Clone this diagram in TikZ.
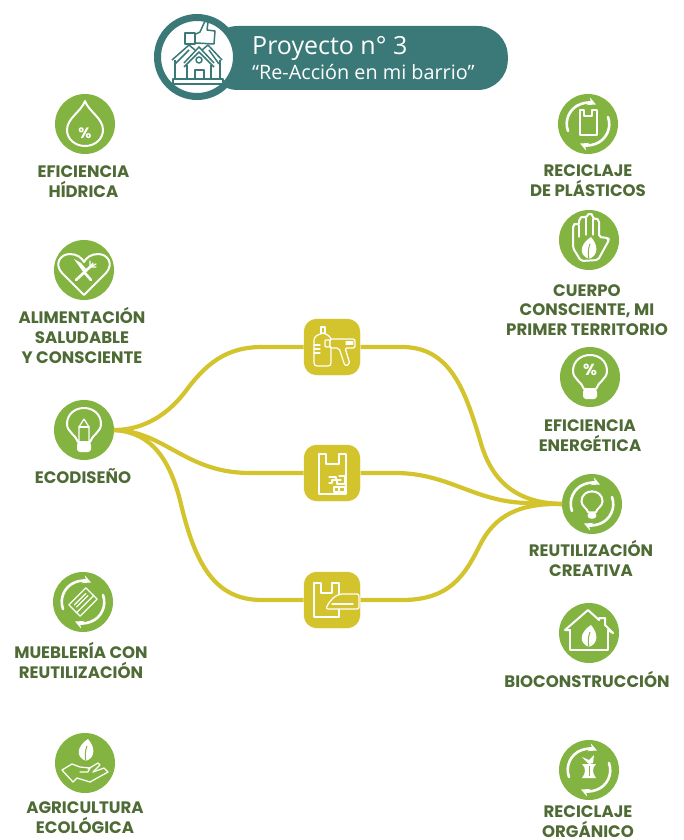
\documentclass[tikz,border=0pt]{standalone}
\usepackage{fontspec}
\usepackage{xcolor}
\usetikzlibrary{positioning}
\setmainfont{Poppins}
\newfontfamily\titlefont{Open Sans}
\definecolor{leafgreen}{RGB}{131, 180, 65}
\definecolor{labelgreen}{RGB}{79, 107, 53}
\definecolor{mustard}{RGB}{211, 196, 45}
\definecolor{teal}{RGB}{58, 121, 119}

\tikzset{
    ico/.style={draw=white, line width=2pt, line join=round, line cap=round},
    icothin/.style={draw=white, line width=1.25pt, line join=round, line cap=round},
    recycle/.pic={
        \draw[ico, line width=2.6pt, -stealth] (-20,7) arc[start angle=160, end angle=293, radius=21];
        \draw[ico, line width=2.6pt, -stealth] (20,-7) arc[start angle=340, end angle=473, radius=21];
    },
    leafy/.pic={
        \fill[white] (0,10) .. controls (-11,6) and (-9,-5) .. (2,-12) .. controls (9,-4) and (10,6) .. (0,10);
        \draw[leafgreen, line width=1pt] (0,11) .. controls (-1,4) and (-1,0) .. (1,-5);
    },
    bulbshape/.pic={
        \draw[ico] (-6,12) .. controls (-8,5) and (-17,2) .. (-17,-6) .. controls (-17,-16) and (-9,-22) .. (0,-22)
            .. controls (9,-22) and (17,-16) .. (17,-6) .. controls (17,2) and (8,5) .. (6,12) -- cycle;
        \fill[white, rounded corners=3pt] (-7,12) rectangle (7,22);
    },
    bagshape/.pic={
        \draw[ico] (-13,-19) -- (-6,-19) -- (-6,-9) -- (7,-9) -- (7,-19) -- (14,-19) -- (14,21) -- (-13,21) -- cycle;
    },
}

\begin{document}
\begin{tikzpicture}[x=1pt, y=-1pt,
        badge/.style={circle, fill=leafgreen, minimum size=60pt, inner sep=0pt, outer sep=0pt},
        stop/.style={rectangle, fill=mustard, draw=white, line width=.5pt, rounded corners=13pt, minimum size=57pt, inner sep=0pt, outer sep=0pt},
        caption/.style={font=\fontsize{16.6}{19.6}\selectfont\bfseries, text=labelgreen, align=center, inner sep=0pt, execute at begin node=\strut},
        route/.style={draw=mustard, line width=4.2pt},
        pct/.style={text=white, font=\fontsize{15}{15}\selectfont\bfseries, inner sep=0pt}
    ]
        \useasboundingbox (0,0) rectangle (684,840);

        \node (banner) [rectangle, fill=teal, minimum width=300pt, minimum height=64pt, rounded corners=30pt, inner sep=0pt, anchor=east] at (508,58) {};
        \node (ring) [circle, fill=white, draw=teal, line width=7pt, minimum size=79pt, inner sep=0pt] at (197,57) {};
        \node (title) [text=white, font=\titlefont\fontsize{25}{26}\selectfont, anchor=base west, inner sep=0pt] at (252,55) {Proyecto n° 3};
        \node (subtitle) [text=white, font=\titlefont\fontsize{19.8}{20}\selectfont, anchor=base west, inner sep=0pt] at (252,80) {“Re-Acción en mi barrio”};

        \begin{scope}[shift={(197,57)}, every path/.style={draw=teal, line width=1.5pt, line join=round}]
            \draw (-12,-24) rectangle (-2,-13);
            \draw (-1,-23) -- (3,-25) -- (8,-36) -- (11,-35) -- (10,-27) -- (18,-26) -- (17,-13) -- (-1,-14);
            \draw (-25,3) -- (-8,-12) -- (-2,-7);
            \draw (25,3) -- (11,-12) -- (5,-7);
            \draw (-22,7) -- (-8,-7);
            \draw (22,7) -- (12,-7);
            \draw (-22,3) -- (-22,22);
            \draw (23,3) -- (23,22);
            \draw (-13,6) -- (2,-10) -- (17,6);
            \draw (-13,10) -- (2,-5) -- (17,10);
            \draw (-10,8) -- (-10,22);
            \draw (14,8) -- (14,22);
            \draw (2,3) circle (3);
            \draw (-2,13) rectangle (7,22);
            \draw (-24,22) rectangle (26,27);
        \end{scope}

        \node (hidrica) [badge] at (85,124) {};
        \node (salud) [badge] at (84,270) {};
        \node (ecodiseno) [badge] at (84,430) {};
        \node (muebles) [badge] at (83,602) {};
        \node (agricultura) [badge] at (85,763) {};
        \node (plasticos) [badge] at (588,124) {};
        \node (cuerpo) [badge] at (589,240) {};
        \node (energia) [badge] at (590,377) {};
        \node (creativa) [badge] at (592,504) {};
        \node (bioconst) [badge] at (589,633) {};
        \node (organico) [badge] at (589,770) {};

        \node (hidricatxt) [caption, below=11.5pt of hidrica, xshift=-1.5pt] {EFICIENCIA\\HÍDRICA};
        \node (saludtxt) [caption, below=7.5pt of salud, xshift=-2pt] {ALIMENTACIÓN\\SALUDABLE\\Y CONSCIENTE};
        \node (ecotxt) [caption, below=8.5pt of ecodiseno, xshift=-1pt] {ECODISEÑO};
        \node (mueblestxt) [caption, below=10.5pt of muebles, xshift=-2pt] {MUEBLERÍA CON\\REUTILIZACIÓN};
        \node (agritxt) [caption, below=9pt of agricultura] {AGRICULTURA\\ECOLÓGICA};
        \node (plastxt) [caption, below=11pt of plasticos] {RECICLAJE\\DE PLÁSTICOS};
        \node (cuerpotxt) [caption, below=14pt of cuerpo, xshift=-2pt] {CUERPO\\CONSCIENTE, MI\\PRIMER TERRITORIO};
        \node (energiatxt) [caption, below=13pt of energia] {EFICIENCIA\\ENERGÉTICA};
        \node (creatxt) [caption, below=6.5pt of creativa, xshift=-1pt] {REUTILIZACIÓN\\CREATIVA};
        \node (biotxt) [caption, below=8.5pt of bioconst, xshift=-2pt] {BIOCONSTRUCCIÓN};
        \node (orgtxt) [caption, below=5.5pt of organico, xshift=-1pt] {RECICLAJE\\ORGÁNICO};

        \node (bottlegun) [stop] at (332,347) {};
        \node (bagbricks) [stop] at (332,473) {};
        \node (bagiron) [stop] at (332,600) {};

        \draw[route] (ecodiseno.east) .. controls (140,430) and (165,418) .. (185,392) .. controls (205,365) and (225,347) .. (262,347) -- (bottlegun.west);
        \draw[route] (ecodiseno.east) .. controls (165,431) and (185,473) .. (250,473) -- (bagbricks.west);
        \draw[route] (ecodiseno.east) .. controls (145,432) and (167,450) .. (180,500) .. controls (195,565) and (215,600) .. (262,600) -- (bagiron.west);
        \draw[route] (bottlegun.east) -- (402,347) .. controls (450,347) and (465,390) .. (480,440) .. controls (492,485) and (520,503) .. (creativa.west);
        \draw[route] (bagbricks.east) -- (395,473) .. controls (450,473) and (475,503) .. (530,503) -- (creativa.west);
        \draw[route] (bagiron.east) -- (402,600) .. controls (450,600) and (465,575) .. (480,545) .. controls (495,515) and (520,503) .. (creativa.west);

        \begin{scope}[shift={(85,124)}]
            \draw[ico] (0,-23) .. controls (-4,-12) and (-18,-6) .. (-18,6) .. controls (-18,15) and (-10,22) .. (0,22)
                .. controls (10,22) and (18,15) .. (18,6) .. controls (18,-6) and (4,-12) .. (0,-23);
            \node (gota) [pct] at (0,9) {\%};
        \end{scope}

        \begin{scope}[shift={(84,270)}]
            \draw[ico] (0,25) -- (-22,3) .. controls (-30,-6) and (-24,-16) .. (-14,-16) .. controls (-7,-16) and (-2,-12) .. (0,-8)
                .. controls (2,-12) and (7,-16) .. (14,-16) .. controls (24,-16) and (30,-6) .. (22,3) -- cycle;
            \fill[white] (-10,-11) -- (-3,-7) -- (3,0) -- (0,3) -- cycle;
            \draw[ico, line width=2.6pt] (0,2) -- (7,10);
            \draw[ico, line width=2.6pt] (-8,10) -- (6,-3);
            \draw[icothin] (6,-3) -- (6,-9) (6,-3) -- (9,-7) (6,-3) -- (12,-6) (6,-3) -- (12,-3);
        \end{scope}

        \pic at (84,430) {bulbshape};
        \begin{scope}[shift={(84,430)}]
            \draw[icothin] (-5,11) -- (-5,-3) -- (0,-11) -- (5,-3) -- (5,11);
            \draw[icothin] (-5,-3) -- (5,-3);
        \end{scope}

        \pic at (83,602) {recycle};
        \begin{scope}[shift={(83,602)}, rotate=45]
            \draw[icothin, fill=leafgreen] (-12,1) rectangle (12,8);
            \draw[icothin, fill=leafgreen] (-12,-8) rectangle (12,3);
            \draw[icothin] (-8,-4) -- (8,-4) (-8,-1) -- (8,-1);
        \end{scope}

        \pic at (86,751) {leafy};
        \begin{scope}[shift={(85,763)}]
            \draw[icothin] (-23,7) -- (-13,1) -- (-5,4) -- (5,5) -- (3,9) -- (-5,9);
            \draw[icothin] (3,6) -- (13,0) -- (15,2) -- (8,9);
            \draw[icothin] (-23,7) -- (-12,19) -- (-8,15) -- (5,19) -- (23,9) -- (19,5) -- (8,9);
        \end{scope}

        \pic at (588,124) {recycle};
        \pic at (588,122) [scale=.62] {bagshape};

        \begin{scope}[shift={(589,240)}]
            \draw[ico, rounded corners=2pt] (-8,21) -- (-16,8) -- (-16,-15) -- (-13,-17) -- (-10,-15) -- (-10,-21) -- (-6,-24) -- (-3,-22) -- (-2,-25) -- (1,-27) -- (4,-25)
                -- (4,-21) -- (7,-22) -- (10,-20) -- (10,-3) -- (19,-2) -- (20,0) -- (9,20) -- cycle;
            \draw[icothin] (-10,-15) -- (-10,-3) (-3,-22) -- (-3,-5) (4,-21) -- (4,-5);
        \end{scope}
        \pic at (589,249) {leafy};

        \pic at (590,377) {bulbshape};
        \node (foco) [pct, font=\fontsize{16}{16}\selectfont\bfseries] at (590,370) {\%};

        \pic at (592,504) {recycle};
        \pic at (592,505) [scale=.62] {bulbshape};

        \begin{scope}[shift={(589,633)}]
            \draw[ico] (-19,-3) -- (-19,17) -- (19,17) -- (19,-3);
            \draw[ico] (-24,-3) -- (-19,-3) (24,0) -- (19,-3);
            \draw[ico] (-24,-3) -- (-1,-23) -- (10,-13) -- (10,-15) -- (16,-15) -- (16,-8) -- (24,0);
        \end{scope}
        \pic at (589,637) {leafy};

        \pic at (589,770) {recycle};
        \begin{scope}[shift={(589,770)}]
            \fill[white] (-7,-6) -- (7,-6) .. controls (3,-2) and (3,3) .. (7,8) -- (-7,8) .. controls (-3,3) and (-3,-2) .. (-7,-6) -- cycle;
            \fill[white] (0,-6) -- (-7,-13) -- (0,-10) -- (5,-15) -- (4,-7) -- cycle;
            \draw[leafgreen, line width=.8pt] (0,-4) -- (0,6);
        \end{scope}

        \begin{scope}[shift={(332,347)}]
            \draw[icothin, rounded corners=3pt] (-18,-10) -- (-10,-14) -- (-8,-14) -- (-1,-10) -- (-1,19) -- (-18,19) -- cycle;
            \draw[icothin] (-11,-14) -- (-11,-20) -- (-7,-20) -- (-7,-14);
            \draw[icothin] (-18,-2) -- (-12,-2) (-18,2) -- (-12,2) (-18,6) -- (-12,6);
            \draw[icothin, fill=mustard, rounded corners=1pt] (-7,-7) rectangle (-2,0);
            \draw[icothin, fill=mustard, rounded corners=2pt] (-2,-8) -- (23,-8) -- (23,1) -- (13,1) -- (18,17) -- (13,19) -- (7,1) -- (-2,1) -- cycle;
            \draw[icothin] (14,-5) -- (21,-5) (14,-3) -- (21,-3);
        \end{scope}

        \pic at (332,473) {bagshape};
        \begin{scope}[shift={(332,473)}]
            \draw[icothin] (-3,4) -- (4,4) -- (4,7) -- (0,7) -- (0,10) -- (-3,10);
            \draw[icothin] (7,3) -- (13,3) -- (13,11) -- (5,11) -- (5,7) -- (9,7);
            \draw[icothin] (2,14) rectangle (7,19) (7,14) rectangle (13,19);
        \end{scope}

        \begin{scope}[shift={(332,600)}]
            \draw[ico] (-18,-17) -- (-11,-17) -- (-11,-7) -- (0,-7) -- (0,-17) -- (7,-17) -- (7,17) -- (-18,17) -- cycle;
            \draw[icothin, fill=mustard, rounded corners=2pt] (-6,9) .. controls (-3,1) and (4,-6) .. (12,-6) -- (27,-6) -- (27,9) -- cycle;
            \draw[icothin] (0,4) -- (21,4);
        \end{scope}
    \end{tikzpicture}
\end{document}
